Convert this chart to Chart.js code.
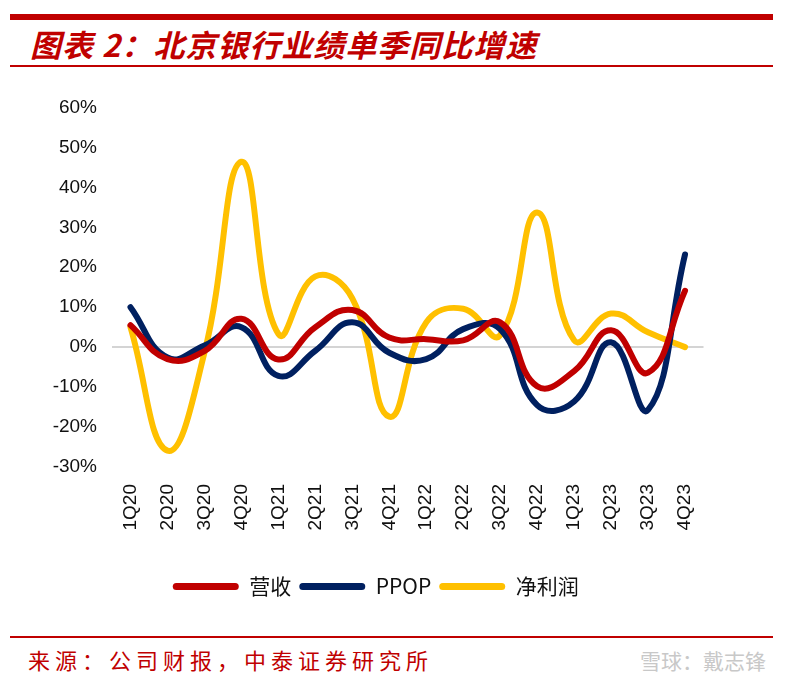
<!DOCTYPE html>
<html>
<head>
<meta charset="utf-8">
<script src="https://cdn.jsdelivr.net/npm/chart.js@4"></script>
<style>
  body { margin: 0; width: 800px; height: 686px; background: #fff; position: relative; overflow: hidden; }
  .bar { position: absolute; left: 10px; width: 763px; background: #c00000; }
  .title { position: absolute; left: 30px; top: 21px; font: italic bold 31px "Noto Sans CJK SC"; color: #c00000; letter-spacing: 1px; }
  .source { position: absolute; left: 28px; top: 643px; font: 22px "Noto Sans CJK SC"; color: #c00000; letter-spacing: 5px; }
  .mark { position: absolute; left: 640px; top: 645px; font: 21px "Noto Sans CJK SC"; color: #c8c8c8; }
  #wrap { position: absolute; left: 48px; top: 81px; width: 752px; height: 526px; }
</style>
</head>
<body>
<div class="bar" style="top:14px;height:6px"></div>
<div class="title">图表 2：北京银行业绩单季同比增速</div>
<div class="bar" style="top:65px;height:1.5px"></div>
<div id="wrap"><canvas id="myChart"></canvas></div>
<div class="bar" style="top:636px;height:1.5px"></div>
<div class="source">来源：公司财报，中泰证券研究所</div>
<div class="mark">雪球：戴志锋</div>
<script>
const quarters = ['1Q20', '2Q20', '3Q20', '4Q20', '1Q21', '2Q21', '3Q21', '4Q21',
  '1Q22', '2Q22', '3Q22', '4Q22', '1Q23', '2Q23', '3Q23', '4Q23'];
// 单季同比增速, %
const revenue = [5.5, -3.0, -1.0, 7.1, -3.1, 5.0, 9.3, 2.4, 2.0, 1.7, 6.2, -9.8, -6.0, 4.2, -6.4, 14.1];
const ppop = [10.0, -2.6, 0.4, 5.0, -7.2, -0.9, 6.2, -1.4, -3.0, 4.5, 4.5, -14.5, -13.6, 1.2, -15.7, 23.2];
const netProfit = [5.0, -25.9, -1.4, 46.4, 3.3, 17.7, 12.2, -17.4, 6.2, 9.6, 3.0, 33.7, 1.7, 8.4, 3.7, 0.0];
const yTicks = [-30, -20, -10, 0, 10, 20, 30, 40, 50, 60];

const ctx = document.getElementById('myChart');

const tickFont = { family: 'Liberation Sans', size: 19 };

const data = {
  labels: quarters,
  datasets: [
    { label: '营收', data: revenue, borderColor: '#c00000', backgroundColor: '#c00000' },
    { label: 'PPOP', data: ppop, borderColor: '#002060', backgroundColor: '#002060' },
    { label: '净利润', data: netProfit, borderColor: '#ffc000', backgroundColor: '#ffc000' }
  ]
};

const myChart = new Chart(ctx, {
  type: 'line',
  data: data,
  options: {
    responsive: true,
    maintainAspectRatio: false,
    animation: false,
    layout: { padding: { top: 7, right: 96.5, left: 0, bottom: 0 } },
    elements: {
      line: { borderWidth: 6, tension: 0.45, borderCapStyle: 'round', borderJoinStyle: 'round' },
      point: { radius: 0, hoverRadius: 0 }
    },
    scales: {
      x: {
        offset: true,
        grid: { display: false },
        border: { display: false },
        ticks: { color: '#111', font: tickFont, minRotation: 90, maxRotation: 90, padding: 9, autoSkip: false },
        afterFit: (s) => { s.height = 101; }
      },
      y: {
        min: -30,
        max: 60,
        afterBuildTicks: (s) => { s.ticks = yTicks.map(v => ({ value: v })); },
        grid: {
          drawTicks: false,
          lineWidth: 2,
          color: (c) => (c.tick && c.tick.value === 0 ? '#d4d4d4' : 'rgba(0,0,0,0)')
        },
        border: { display: false },
        ticks: { color: '#111', font: tickFont, padding: 15, callback: (v) => v + '%' },
        afterFit: (s) => { s.width = 64; }
      }
    },
    plugins: {
      tooltip: { enabled: false },
      legend: {
        position: 'bottom',
        labels: {
          color: '#111',
          font: { family: 'Noto Sans CJK SC', size: 21 },
          boxWidth: 66,
          boxHeight: 7,
          padding: 8,
          useBorderRadius: true,
          borderRadius: 3.5,
          generateLabels: (chart) => Chart.defaults.plugins.legend.labels.generateLabels(chart)
            .map(item => Object.assign(item, { lineWidth: 0 }))
        }
      }
    }
  }
});
</script>
</body>
</html>
